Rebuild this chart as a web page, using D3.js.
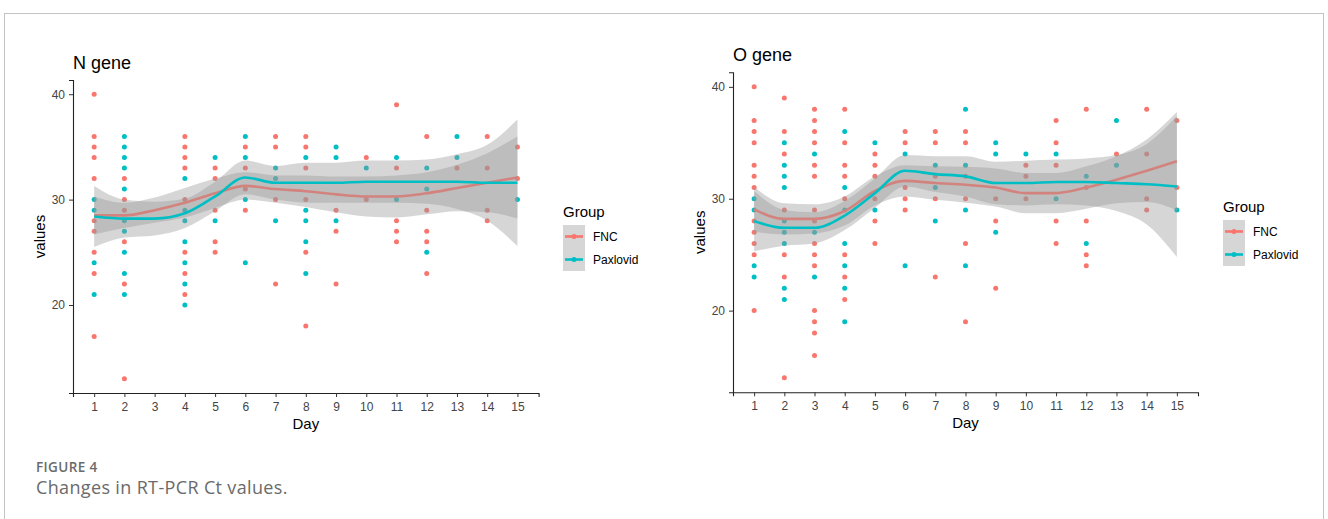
<!DOCTYPE html>
<html>
<head>
<meta charset="utf-8">
<script src="https://cdn.jsdelivr.net/npm/d3@7"></script>
<style>
  body { margin: 0; background: #fff; }
  svg text { font-family: "Liberation Sans", Arial, sans-serif; }
</style>
</head>
<body>
<div id="canvas"></div>
<script>
"use strict"

/* ---------- data ---------- */
const days = [1, 2, 3, 4, 5, 6, 7, 8, 9, 10, 11, 12, 13, 14, 15];
const groups = ["FNC", "Paxlovid"];
const yTicks = [20, 30, 40];

// N gene: Ct values per day (index 0 = day 1)
const nFncValues = [[40,36,35,34,32,28,27,25,23,17], [32,30,29,26,22,13], [], [36,35,34,33,30,25,23,21],
  [33,32,29,26,25], [35,33,31,29], [36,35,30,22], [36,35,33,30,25,18], [29,27,22], [34,30],
  [39,33,28,27,26], [36,29,27,26,23], [33], [36,33,29,28], [35,32]];
const nPaxValues = [[30,29,24,21], [36,35,34,33,31,28,27,25,23,21], [], [32,29,28,26,24,22,20],
  [34,28], [36,34,30,24], [33,32,28], [34,29,28,26,23], [35,34,28], [33],
  [34,30], [33,31,25], [36,34], [], [30]];
// N gene loess fit and half-width of the confidence band
const nFncFit = [28.5, 28.5, 29.0, 29.7, 30.6, 31.3, 31.0, 30.8, 30.5, 30.3, 30.3, 30.6, 31.1, 31.6, 32.1];
const nFncSe  = [1.8, 1.2, 1.2, 1.4, 1.4, 1.3, 1.3, 1.5, 1.7, 1.9, 2.0, 2.0, 2.2, 2.8, 3.9];
const nPaxFit = [28.4, 28.2, 28.2, 28.7, 30.3, 32.1, 31.6, 31.6, 31.6, 31.7, 31.7, 31.7, 31.7, 31.6, 31.6];
const nPaxSe  = [2.9, 1.8, 1.6, 1.4, 1.4, 1.6, 1.6, 1.9, 1.9, 2.0, 2.0, 2.1, 2.6, 3.6, 6.0];

// O gene
const oFncValues = [[40,37,36,35,33,32,31,28,27,26,25,20], [39,36,34,29,25,23,14],
  [38,37,36,35,33,32,29,28,26,25,24,20,19,18,16], [38,35,33,32,30,25,23,21], [34,33,32,30,28,26],
  [36,35,31,30,29], [36,35,32,30,23], [36,35,32,30,26,19], [30,28,22], [33,32,30],
  [37,35,33,28,26], [38,31,28,25,24], [34], [38,34,30,29], [37,31]];
const oPaxValues = [[30,29,24,23], [35,33,32,31,28,27,26,22,21], [34,27,23], [36,31,29,26,24,22,19],
  [35,29], [34,24], [33,31,28], [38,33,29,24], [35,34,27], [34],
  [34,30], [32,26], [37,33], [], [29]];
const oFncFit = [29.05, 28.2, 28.2, 28.9, 30.7, 31.6, 31.4, 31.25, 31.0, 30.5, 30.5, 31.0, 31.7, 32.5, 33.35];
const oFncSe  = [2.0, 1.4, 1.3, 1.3, 1.3, 1.4, 1.5, 1.6, 1.7, 1.8, 1.8, 1.9, 2.1, 2.8, 4.4];
const oPaxFit = [28.0, 27.4, 27.4, 28.5, 30.5, 32.5, 32.2, 32.0, 31.4, 31.4, 31.5, 31.5, 31.4, 31.3, 31.1];
const oPaxSe  = [2.7, 1.6, 1.4, 1.3, 1.3, 1.4, 1.6, 1.8, 1.9, 2.0, 2.0, 2.1, 2.5, 3.6, 6.3];

const colors = { FNC: "#F8766D", Paxlovid: "#00BFC4" };

/* ---------- canvas ---------- */
let drawing = d3.select("#canvas")
  .append("svg")
  .attr("width", 1328)
  .attr("height", 519);

// light frame round the figure
drawing.append("rect")
  .attr("x", 4.5).attr("y", 13.5)
  .attr("width", 1319).attr("height", 540)
  .attr("fill", "none")
  .attr("stroke", "#c4c4c4");

/* ---------- one panel ---------- */
function drawPanel(p) {
  let g = drawing.append("g");

  let x = d3.scaleLinear().domain([0.3, 15.7]).range([p.left, p.right]);
  let y = d3.scaleLinear().domain(p.yDomain).range([p.bottom, p.top]);

  // points
  let series = [
    { name: "FNC", values: p.fncValues, fit: p.fncFit, se: p.fncSe },
    { name: "Paxlovid", values: p.paxValues, fit: p.paxFit, se: p.paxSe }
  ];
  series.forEach(s => {
    let pts = [];
    s.values.forEach((vals, i) => vals.forEach(v => pts.push([days[i], v])));
    g.selectAll(null).data(pts).enter().append("circle")
      .attr("cx", d => x(d[0])).attr("cy", d => y(d[1]))
      .attr("r", 2.5)
      .attr("fill", colors[s.name]);
  });

  // smooth: ribbon then line, group by group (as ggplot does)
  let area = d3.area()
    .x((d, i) => x(days[i]))
    .y0(d => y(d[0] - d[1]))
    .y1(d => y(d[0] + d[1]))
    .curve(d3.curveMonotoneX);
  let line = d3.line()
    .x((d, i) => x(days[i]))
    .y(d => y(d))
    .curve(d3.curveMonotoneX);

  series.forEach(s => {
    g.append("path")
      .datum(s.fit.map((f, i) => [f, s.se[i]]))
      .attr("d", area)
      .attr("fill", "#999999")
      .attr("fill-opacity", 0.4);
    g.append("path")
      .datum(s.fit)
      .attr("d", line)
      .attr("fill", "none")
      .attr("stroke", colors[s.name])
      .attr("stroke-width", 2.6);
  });

  // axes
  let xAxis = g.append("g")
    .attr("transform", `translate(0,${p.bottom})`)
    .call(d3.axisBottom(x).tickValues(days).tickFormat(d3.format("d")).tickSizeOuter(0).tickSize(4).tickPadding(5));
  let yAxis = g.append("g")
    .attr("transform", `translate(${p.left},0)`)
    .call(d3.axisLeft(y).tickValues(yTicks).tickSizeOuter(0).tickSize(4).tickPadding(4));
  [xAxis, yAxis].forEach(a => {
    a.select(".domain").attr("stroke", "#222").attr("stroke-width", 1.1);
    a.selectAll(".tick line").attr("stroke", "#333");
    a.selectAll(".tick text").attr("fill", "#444").style("font-size", "12px")
      .style("font-family", "'Liberation Sans', Arial, sans-serif");
  });

  // titles
  g.append("text")
    .attr("x", p.left).attr("y", p.top - 11)
    .style("font-size", "18px").attr("fill", "#000")
    .text(p.title);
  g.append("text")
    .attr("x", (p.left + p.right) / 2).attr("y", p.bottom + 36)
    .attr("text-anchor", "middle")
    .style("font-size", "15px")
    .text("Day");
  g.append("text")
    .attr("transform", `translate(${p.left - 28},${(p.top + p.bottom) / 2}) rotate(-90)`)
    .attr("text-anchor", "middle")
    .style("font-size", "15px")
    .text("values");

  // legend
  let lg = g.append("g").attr("transform", `translate(${p.legendX},${p.legendY})`);
  lg.append("text").attr("x", 0).attr("y", 0).style("font-size", "15px").text("Group");
  lg.append("rect")
    .attr("x", 0).attr("y", 8)
    .attr("width", 22).attr("height", 46)
    .attr("fill", "#d6d6d6");
  groups.forEach((name, i) => {
    let cy = 19.5 + i * 23;
    lg.append("line")
      .attr("x1", 2).attr("x2", 20).attr("y1", cy).attr("y2", cy)
      .attr("stroke", colors[name]).attr("stroke-width", 2.6);
    lg.append("circle")
      .attr("cx", 11).attr("cy", cy).attr("r", 2.5)
      .attr("fill", colors[name]);
    lg.append("text")
      .attr("x", 30).attr("y", cy + 4.2)
      .style("font-size", "12px")
      .text(name);
  });
}

drawPanel({
  title: "N gene", left: 73, right: 538.6, top: 80, bottom: 393,
  yDomain: [11.65, 41.35],
  fncValues: nFncValues, paxValues: nPaxValues,
  fncFit: nFncFit, fncSe: nFncSe, paxFit: nPaxFit, paxSe: nPaxSe,
  legendX: 563, legendY: 217
});

drawPanel({
  title: "O gene", left: 733, right: 1198, top: 72.3, bottom: 392.3,
  yDomain: [12.7, 41.3],
  fncValues: oFncValues, paxValues: oPaxValues,
  fncFit: oFncFit, fncSe: oFncSe, paxFit: oPaxFit, paxSe: oPaxSe,
  legendX: 1223, legendY: 212
});

/* ---------- caption ---------- */
drawing.append("text")
  .attr("x", 36).attr("y", 472)
  .style("font-family", "'Open Sans', sans-serif")
  .style("font-size", "13.5px").style("font-weight", 600)
  .style("letter-spacing", "0.4px")
  .attr("fill", "#6a6a6a")
  .text("FIGURE 4");
drawing.append("text")
  .attr("x", 36).attr("y", 493.5)
  .style("font-family", "'Open Sans', sans-serif")
  .style("font-size", "18px")
  .style("letter-spacing", "0.35px")
  .attr("fill", "#6a6a6a")
  .text("Changes in RT-PCR Ct values.");
</script>
</body>
</html>
